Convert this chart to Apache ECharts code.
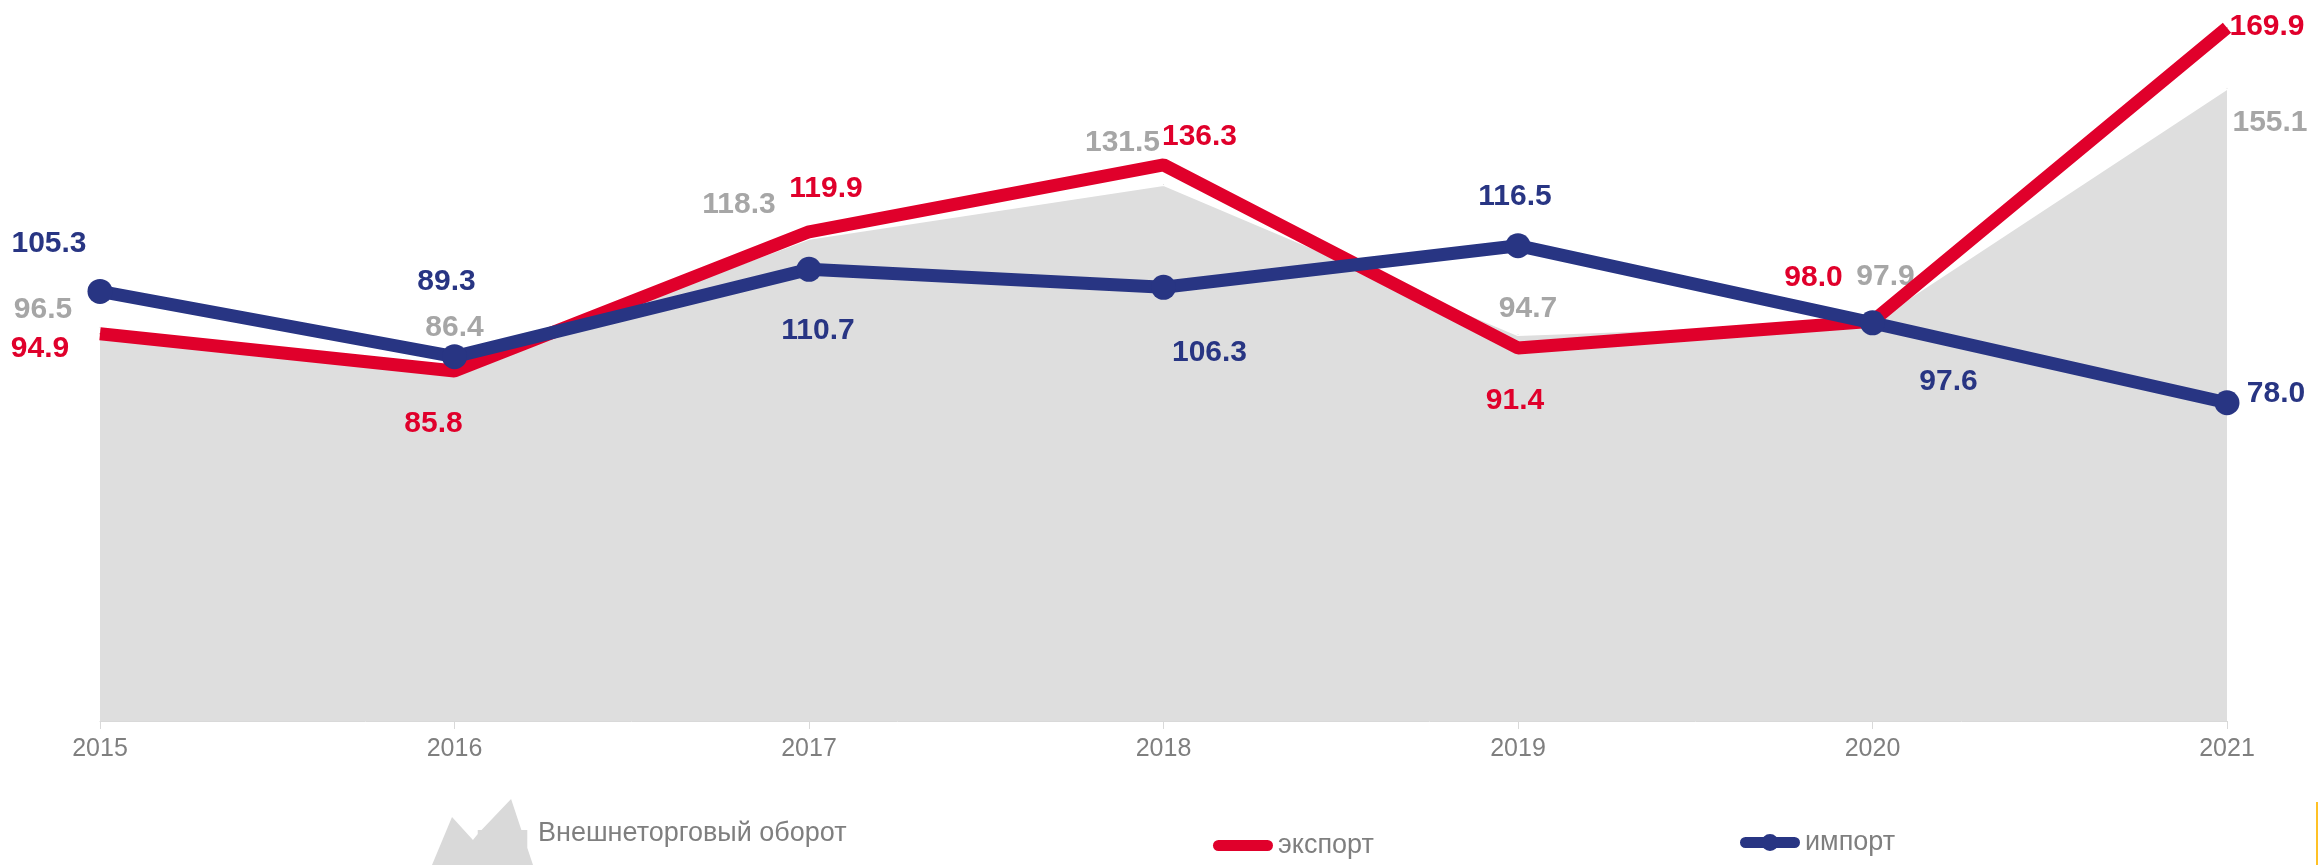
<!DOCTYPE html>
<html><head><meta charset="utf-8">
<script src="https://cdn.jsdelivr.net/npm/echarts@6/dist/echarts.min.js"></script>
<style>html,body{margin:0;padding:0;background:#fff}#c{width:2318px;height:865px}</style>
</head><body><div id="c"></div>
<script>
// ---- data ----
const years = ['2015', '2016', '2017', '2018', '2019', '2020', '2021'];
const turnover = [96.5, 86.4, 118.3, 131.5, 94.7, 97.9, 155.1];
const exportVals = [94.9, 85.8, 119.9, 136.3, 91.4, 98.0, 169.9];
const importVals = [105.3, 89.3, 110.7, 106.3, 116.5, 97.6, 78.0];
const seriesNames = ['Внешнеторговый оборот', 'экспорт', 'импорт'];

// ---- label placement (px offsets from the point) ----
const turnoverLabelOffsets = [[-57,-18],[0,-41],[-70,-34],[-41,-42],[10,-26],[13,-45],[43,35]];
const exportLabelOffsets = [[-60,15],[-21,53],[17,-43],[36,-28],[-3,53],[-59,-43],[40,-1]];
const importLabelOffsets = [[-51,-48],[-8,-75],[9,61],[46,65],[-3,-49],[76,59],[49,-9]];

const FONT = 'Liberation Sans, Arial, sans-serif';
const GREY_LABEL = '#a6a6a6';
const RED = '#e0002b';
const NAVY = '#283583';
const AREA = '#dedede';

function withLabels(vals, offs) {
  return vals.map((v, i) => ({ value: v, label: { offset: offs[i] } }));
}
function labelCfg(color) {
  return {
    show: true, position: 'inside', color: color,
    fontSize: 30, fontWeight: 'bold', fontFamily: FONT,
    formatter: p => Number(p.value).toFixed(1)
  };
}

const chart = echarts.init(document.getElementById('c'), null, { renderer: 'canvas' });
chart.setOption({
  animation: false,
  backgroundColor: '#ffffff',
  grid: { left: 100, right: 91, top: 7, bottom: 144, outerBoundsMode: 'none' },
  xAxis: {
    type: 'category', data: years, boundaryGap: false,
    axisLine: { lineStyle: { color: '#d9d9d9', width: 1 } },
    axisTick: { show: true, length: 8, lineStyle: { color: '#d9d9d9' } },
    axisLabel: { color: '#7f7f7f', fontSize: 25, margin: 16, fontFamily: FONT },
    splitLine: { show: false }
  },
  yAxis: { type: 'value', min: 0, max: 175, show: false, splitLine: { show: false } },
  legend: [
    {
      left: 432, top: 784, padding: 0, selectedMode: false,
      itemWidth: 101, itemHeight: 100, symbolKeepAspect: false,
      textStyle: { color: '#7f7f7f', fontSize: 27, fontFamily: FONT },
      data: [{
        name: seriesNames[0],
        icon: 'path://M0 0 M0 100 M0 81 L21 33 L43 56 L48 50 L83 15 L106 81 Z M48 46 L100 46 L100 81 L48 81 Z',
        itemStyle: { color: '#d9d9d9', borderWidth: 0 }
      }]
    },
    {
      left: 1213, top: 832, padding: 0, selectedMode: false,
      itemWidth: 60, itemHeight: 11,
      textStyle: { color: '#7f7f7f', fontSize: 27, fontFamily: FONT },
      data: [{
        name: seriesNames[1],
        icon: 'path://M5.5 0 L54.5 0 A5.5 5.5 0 0 1 54.5 11 L5.5 11 A5.5 5.5 0 0 1 5.5 0 Z',
        itemStyle: { color: RED, borderWidth: 0 }
      }]
    },
    {
      left: 1740, top: 829, padding: 0, selectedMode: false,
      itemWidth: 60, itemHeight: 17,
      textStyle: { color: '#7f7f7f', fontSize: 27, fontFamily: FONT },
      data: [{
        name: seriesNames[2],
        icon: 'path://M5.5 3 L54.5 3 A5.5 5.5 0 0 1 54.5 14 L5.5 14 A5.5 5.5 0 0 1 5.5 3 Z M38.5 8.5 A8.5 8.5 0 1 1 21.5 8.5 A8.5 8.5 0 1 1 38.5 8.5 Z',
        itemStyle: { color: NAVY, borderWidth: 0 }
      }]
    }
  ],
  series: [
    {
      name: seriesNames[0], type: 'line',
      data: withLabels(turnover, turnoverLabelOffsets),
      symbol: 'circle', symbolSize: 1,
      itemStyle: { color: AREA },
      lineStyle: { color: '#ffffff', width: 3 },
      areaStyle: { color: AREA, opacity: 1 },
      label: labelCfg(GREY_LABEL),
      emphasis: { disabled: true }, z: 1
    },
    {
      name: seriesNames[1], type: 'line',
      data: withLabels(exportVals, exportLabelOffsets),
      symbol: 'circle', symbolSize: 1,
      itemStyle: { color: RED },
      lineStyle: { color: RED, width: 13 },
      label: labelCfg(RED),
      emphasis: { disabled: true }, z: 2
    },
    {
      name: seriesNames[2], type: 'line',
      data: withLabels(importVals, importLabelOffsets),
      symbol: 'circle', symbolSize: 25,
      itemStyle: { color: NAVY },
      lineStyle: { color: NAVY, width: 13 },
      label: labelCfg(NAVY),
      emphasis: { disabled: true }, z: 3
    }
  ],
  graphic: [{
    type: 'rect', right: 0, bottom: 0,
    shape: { width: 2, height: 63 },
    style: { fill: '#ffc125' }
  }]
});
</script></body></html>
